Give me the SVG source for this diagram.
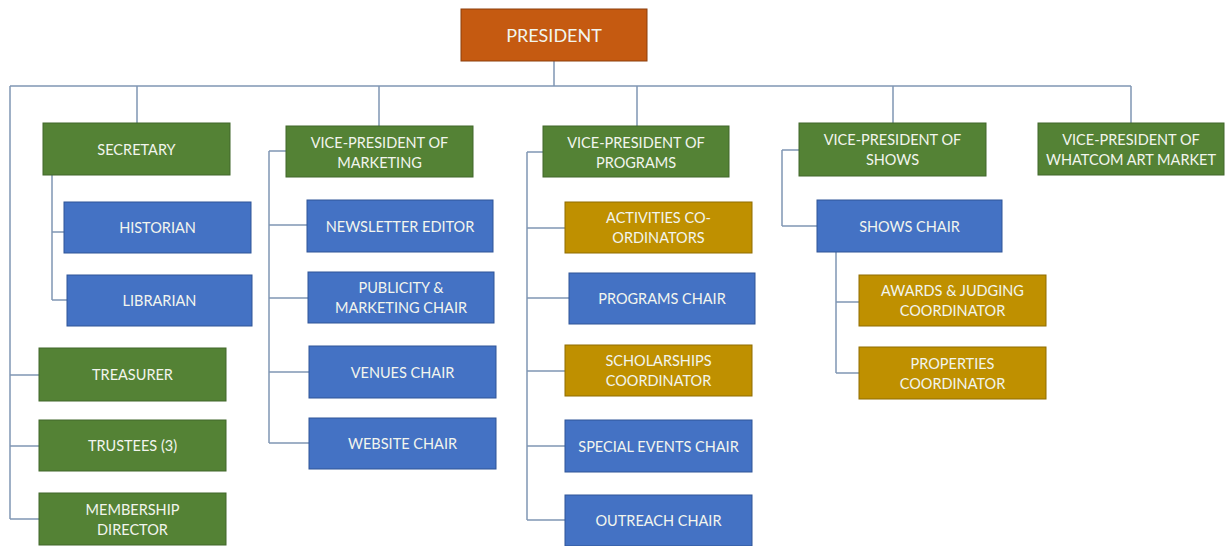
<svg xmlns="http://www.w3.org/2000/svg" width="1225" height="546" viewBox="0 0 1225 546">
<style>
.g{fill:#548235;stroke:#41672a;stroke-width:1}
.b{fill:#4472c4;stroke:#2f5597;stroke-width:1}
.y{fill:#bf9000;stroke:#8f6c00;stroke-width:1}
.o{fill:#c55a11;stroke:#8c3f0c;stroke-width:1}
text{font-family:Lato,"Liberation Sans",sans-serif;font-size:14.5px;fill:#f2f5ee;text-anchor:middle;dominant-baseline:central}
.c path{fill:none;stroke:#8096b4;stroke-width:1.5}
</style>
<rect width="1225" height="546" fill="#ffffff"/>
<g class="c" id="connectors">
<path d="M554 61V86M10 86H1131M137 86V123M379 86V126M637 86V126M893 86V123M1131 86V123"/>
<path d="M10 86V519M10 375H39M10 446H39M10 519H39"/>
<path d="M52 175V300M52 232H64M52 300H67"/>
<path d="M269 151V443M269 151H286M269 225H307M269 298H308M269 372H309M269 443H309"/>
<path d="M527 152V520M527 152H543M527 228H565M527 298H569M527 371H565M527 446H565M527 520H565"/>
<path d="M782 150V226M782 150H799M782 226H817"/>
<path d="M836 252V373M836 302H859M836 373H859"/>
</g>
<g id="president"><rect class="o" x="461" y="9" width="186" height="52"/><text x="554" y="35" style="font-size:18px">PRESIDENT</text></g>
<g id="secretary"><rect class="g" x="43" y="123" width="187" height="52"/><text x="136.5" y="149">SECRETARY</text></g>
<g id="vp-marketing"><rect class="g" x="286" y="126" width="187" height="51"/><text x="379.5" y="142">VICE-PRESIDENT OF</text><text x="379.5" y="162">MARKETING</text></g>
<g id="vp-programs"><rect class="g" x="543" y="126" width="186" height="51"/><text x="636" y="142">VICE-PRESIDENT OF</text><text x="636" y="162">PROGRAMS</text></g>
<g id="vp-shows"><rect class="g" x="799" y="123" width="187" height="53"/><text x="892.5" y="139.5">VICE-PRESIDENT OF</text><text x="892.5" y="159.5">SHOWS</text></g>
<g id="vp-whatcom"><rect class="g" x="1038" y="123" width="186" height="52"/><text x="1131" y="139.5">VICE-PRESIDENT OF</text><text x="1131" y="159.5">WHATCOM ART MARKET</text></g>
<g id="historian"><rect class="b" x="64" y="202" width="187" height="51"/><text x="157.5" y="227.5">HISTORIAN</text></g>
<g id="librarian"><rect class="b" x="67" y="275" width="185" height="51"/><text x="159.5" y="300.5">LIBRARIAN</text></g>
<g id="treasurer"><rect class="g" x="39" y="348" width="187" height="53"/><text x="132.5" y="374.5">TREASURER</text></g>
<g id="trustees"><rect class="g" x="39" y="420" width="187" height="51"/><text x="132.5" y="445.5">TRUSTEES (3)</text></g>
<g id="membership"><rect class="g" x="39" y="493" width="187" height="52"/><text x="132.5" y="509">MEMBERSHIP</text><text x="132.5" y="529">DIRECTOR</text></g>
<g id="newsletter"><rect class="b" x="307" y="200" width="186" height="52"/><text x="400" y="226">NEWSLETTER EDITOR</text></g>
<g id="publicity"><rect class="b" x="308" y="272" width="186" height="51"/><text x="401" y="287.5">PUBLICITY &amp;</text><text x="401" y="307.5">MARKETING CHAIR</text></g>
<g id="venues"><rect class="b" x="309" y="346" width="187" height="52"/><text x="402.5" y="372">VENUES CHAIR</text></g>
<g id="website"><rect class="b" x="309" y="418" width="187" height="51"/><text x="402.5" y="443.5">WEBSITE CHAIR</text></g>
<g id="activities"><rect class="y" x="565" y="202" width="187" height="51"/><text x="658.5" y="217.5">ACTIVITIES CO-</text><text x="658.5" y="237.5">ORDINATORS</text></g>
<g id="programs-chair"><rect class="b" x="569" y="273" width="186" height="51"/><text x="662" y="298.5">PROGRAMS CHAIR</text></g>
<g id="scholarships"><rect class="y" x="565" y="345" width="187" height="51"/><text x="658.5" y="360.5">SCHOLARSHIPS</text><text x="658.5" y="380.5">COORDINATOR</text></g>
<g id="special-events"><rect class="b" x="565" y="420" width="187" height="52"/><text x="658.5" y="446">SPECIAL EVENTS CHAIR</text></g>
<g id="outreach"><rect class="b" x="565" y="495" width="187" height="51"/><text x="658.5" y="520.5">OUTREACH CHAIR</text></g>
<g id="shows-chair"><rect class="b" x="817" y="200" width="185" height="52"/><text x="909.5" y="226">SHOWS CHAIR</text></g>
<g id="awards"><rect class="y" x="859" y="275" width="187" height="51"/><text x="952.5" y="290.5">AWARDS &amp; JUDGING</text><text x="952.5" y="310.5">COORDINATOR</text></g>
<g id="properties"><rect class="y" x="859" y="347" width="187" height="52"/><text x="952.5" y="363">PROPERTIES</text><text x="952.5" y="383">COORDINATOR</text></g>
</svg>
